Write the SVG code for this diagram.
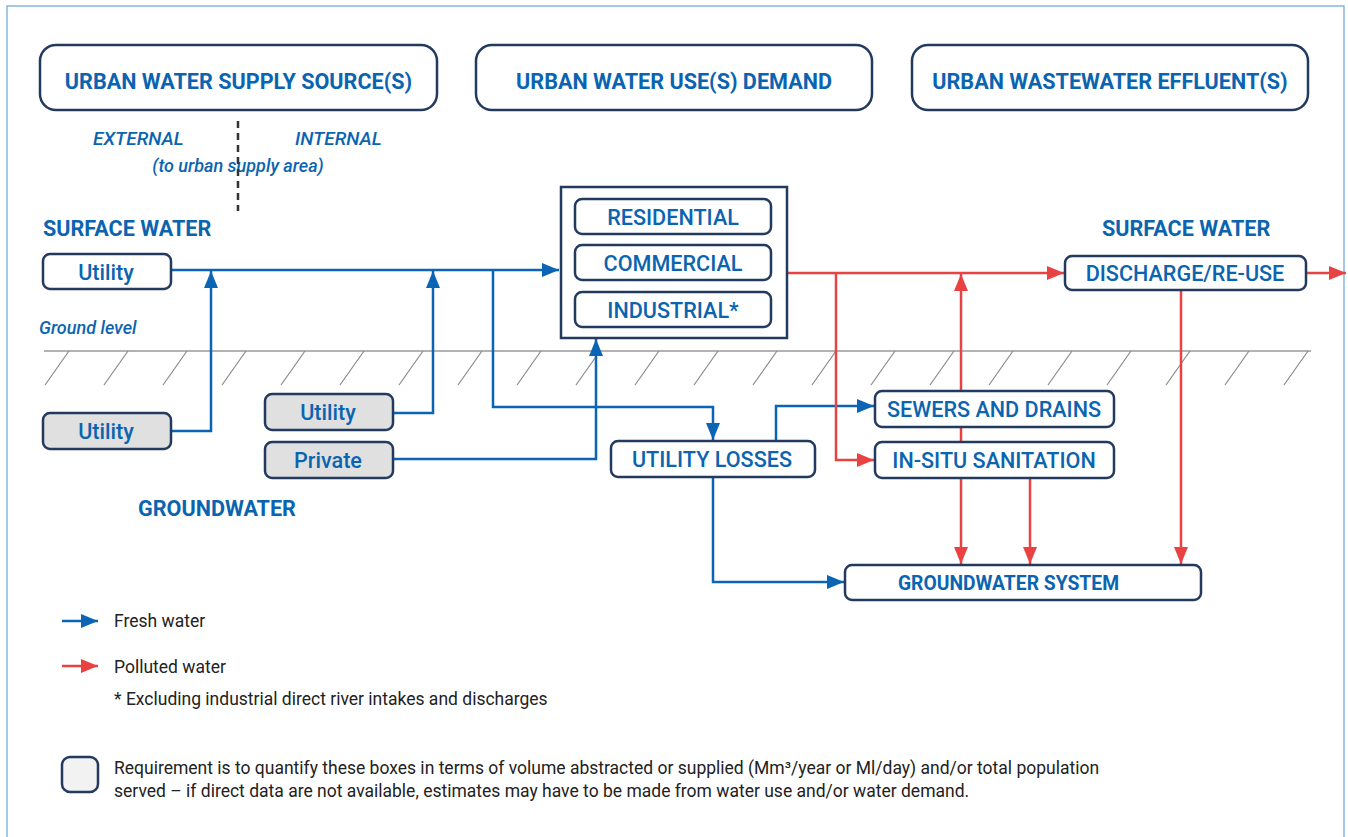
<svg xmlns="http://www.w3.org/2000/svg" width="1348" height="837" viewBox="0 0 1348 837">
<style>
.box{fill:#fff;stroke:#233a5f;stroke-width:2.5}
.gbox{fill:#e0e0e0;stroke:#233a5f;stroke-width:2.5}
.hdr{font-family:Roboto,"Liberation Sans",sans-serif;font-weight:700;font-size:21.6px;fill:#0b64b0;text-anchor:middle}
.lbl{font-family:Roboto,"Liberation Sans",sans-serif;font-weight:500;font-size:21.6px;fill:#0b64b0;text-anchor:middle}
.sec{font-family:Roboto,"Liberation Sans",sans-serif;font-weight:700;font-size:21.6px;fill:#0b64b0}
.it{font-family:Roboto,"Liberation Sans",sans-serif;font-style:italic;font-weight:500;font-size:19px;fill:#0b64b0}
.leg{font-family:Roboto,"Liberation Sans",sans-serif;font-size:17.5px;fill:#222}
.fw{fill:none;stroke:#0b64b4;stroke-width:2.5}
.pw{fill:none;stroke:#e84242;stroke-width:2.5}
.hatch{stroke:#8a8a8a;stroke-width:1.2}
</style>
<defs>
<marker id="ab" viewBox="0 0 17 14" refX="17" refY="7" markerWidth="17" markerHeight="14" markerUnits="userSpaceOnUse" orient="auto"><path d="M0,0 L17,7 L0,14 z" fill="#0b64b4"/></marker>
<marker id="ar" viewBox="0 0 17 14" refX="17" refY="7" markerWidth="17" markerHeight="14" markerUnits="userSpaceOnUse" orient="auto"><path d="M0,0 L17,7 L0,14 z" fill="#e84242"/></marker>
</defs>
<rect x="7" y="6" width="1337" height="845" fill="#fff" stroke="#6aa3da" stroke-width="1.2"/>

<!-- ground -->
<g id="ground">
<line x1="44" y1="351" x2="1311" y2="351" stroke="#999" stroke-width="1.4"/>
<g class="hatch">
<path d="M45,385 L69,351 M104,385 L128,351 M163,385 L187,351 M222,385 L246,351 M281,385 L305,351 M340,385 L364,351 M399,385 L423,351 M458,385 L482,351 M517,385 L541,351 M576,385 L600,351 M635,385 L659,351 M694,385 L718,351 M753,385 L777,351 M812,385 L836,351 M871,385 L895,351 M930,385 L954,351 M989,385 L1013,351 M1048,385 L1072,351 M1107,385 L1131,351 M1166,385 L1190,351 M1225,385 L1249,351 M1284,385 L1308,351"/>
</g>
<text class="it" x="39" y="334" style="font-size:18px">Ground level</text>
</g>

<!-- labels -->
<g id="labels">
<text class="it" x="93" y="145">EXTERNAL</text>
<text class="it" x="295" y="145">INTERNAL</text>
<text class="it" x="238" y="172" text-anchor="middle" style="font-size:18px">(to urban supply area)</text>
<line x1="238" y1="121" x2="238" y2="211" stroke="#333" stroke-width="2.5" stroke-dasharray="7,5"/>
<text class="sec" x="43" y="236">SURFACE WATER</text>
<text class="sec" x="1102" y="236">SURFACE WATER</text>
<text class="sec" x="138" y="516">GROUNDWATER</text>
</g>

<!-- connectors -->
<g id="connectors">
<path class="fw" d="M171,270 L559,270" marker-end="url(#ab)"/>
<path class="fw" d="M171,431 L211,431 L211,271" marker-end="url(#ab)"/>
<path class="fw" d="M393,413 L433,413 L433,271" marker-end="url(#ab)"/>
<path class="fw" d="M393,459 L596,459 L596,339" marker-end="url(#ab)"/>
<path class="fw" d="M493,270 L493,407 L713,407 L713,440" marker-end="url(#ab)"/>
<path class="fw" d="M776,441 L776,406 L874,406" marker-end="url(#ab)"/>
<path class="fw" d="M713,477 L713,582 L844,582" marker-end="url(#ab)"/>
<path class="pw" d="M787,273 L1064,273" marker-end="url(#ar)"/>
<path class="pw" d="M836,273 L836,460 L874,460" marker-end="url(#ar)"/>
<path class="pw" d="M961,391 L961,274" marker-end="url(#ar)"/>
<path class="pw" d="M961,427 L961,442"/>
<path class="pw" d="M961,478 L961,564" marker-end="url(#ar)"/>
<path class="pw" d="M1030,478 L1030,564" marker-end="url(#ar)"/>
<path class="pw" d="M1181,290 L1181,564" marker-end="url(#ar)"/>
<path class="pw" d="M1306,273 L1346,273" marker-end="url(#ar)"/>
</g>

<!-- header nodes -->
<g id="hdr-supply"><rect class="box" x="40" y="45" width="397" height="65" rx="16"/><text class="hdr" x="238.5" y="89">URBAN WATER SUPPLY SOURCE(S)</text></g>
<g id="hdr-demand"><rect class="box" x="476" y="45" width="396" height="65" rx="16"/><text class="hdr" x="674" y="89">URBAN WATER USE(S) DEMAND</text></g>
<g id="hdr-effluent"><rect class="box" x="912" y="45" width="396" height="65" rx="16"/><text class="hdr" x="1110" y="89">URBAN WASTEWATER EFFLUENT(S)</text></g>

<!-- source nodes -->
<g id="sw-utility"><rect class="box" x="43" y="254" width="128" height="35" rx="7"/><text class="lbl" x="106" y="280">Utility</text></g>
<g id="gw-utility1"><rect class="gbox" x="43" y="413" width="128" height="36" rx="7"/><text class="lbl" x="106" y="439">Utility</text></g>
<g id="gw-utility2"><rect class="gbox" x="265" y="394" width="128" height="36" rx="7"/><text class="lbl" x="328" y="420">Utility</text></g>
<g id="gw-private"><rect class="gbox" x="265" y="442" width="128" height="36" rx="7"/><text class="lbl" x="328" y="468">Private</text></g>

<!-- demand -->
<g id="demand">
<rect x="561" y="187" width="226" height="151" fill="#fff" stroke="#233a5f" stroke-width="2.5"/>
<g id="residential"><rect class="box" x="575" y="199" width="196" height="35" rx="7"/><text class="lbl" x="673" y="225">RESIDENTIAL</text></g>
<g id="commercial"><rect class="box" x="575" y="245" width="196" height="35" rx="7"/><text class="lbl" x="673" y="271">COMMERCIAL</text></g>
<g id="industrial"><rect class="box" x="575" y="292" width="196" height="35" rx="7"/><text class="lbl" x="673" y="318">INDUSTRIAL*</text></g>
</g>

<g id="utility-losses"><rect class="box" x="611" y="441" width="204" height="36" rx="7"/><text class="lbl" x="712" y="467">UTILITY LOSSES</text></g>
<g id="sewers"><rect class="box" x="875" y="391" width="239" height="36" rx="7"/><text class="lbl" x="994" y="417">SEWERS AND DRAINS</text></g>
<g id="in-situ"><rect class="box" x="875" y="442" width="239" height="36" rx="7"/><text class="lbl" x="994" y="468">IN-SITU SANITATION</text></g>
<g id="discharge"><rect class="box" x="1065" y="256" width="241" height="34" rx="7"/><text class="lbl" x="1185" y="281">DISCHARGE/RE-USE</text></g>
<g id="gw-system"><rect class="box" x="845" y="565" width="356" height="35" rx="7"/><text class="hdr" x="1008.5" y="590" style="font-size:19.3px">GROUNDWATER SYSTEM</text></g>

<!-- legend -->
<g id="legend">
<path class="fw" d="M62,621 L98,621" marker-end="url(#ab)"/>
<text class="leg" x="114" y="627">Fresh water</text>
<path class="pw" d="M62,666 L98,666" marker-end="url(#ar)"/>
<text class="leg" x="114" y="673">Polluted water</text>
<text class="leg" x="114" y="705">* Excluding industrial direct river intakes and discharges</text>
<rect x="62" y="757" width="36" height="35" rx="8" fill="#f2f2f2" stroke="#233a5f" stroke-width="2.5"/>
<text class="leg" x="114" y="774">Requirement is to quantify these boxes in terms of volume abstracted or supplied (Mm³/year or Ml/day) and/or total population</text>
<text class="leg" x="114" y="797">served – if direct data are not available, estimates may have to be made from water use and/or water demand.</text>
</g>
</svg>
